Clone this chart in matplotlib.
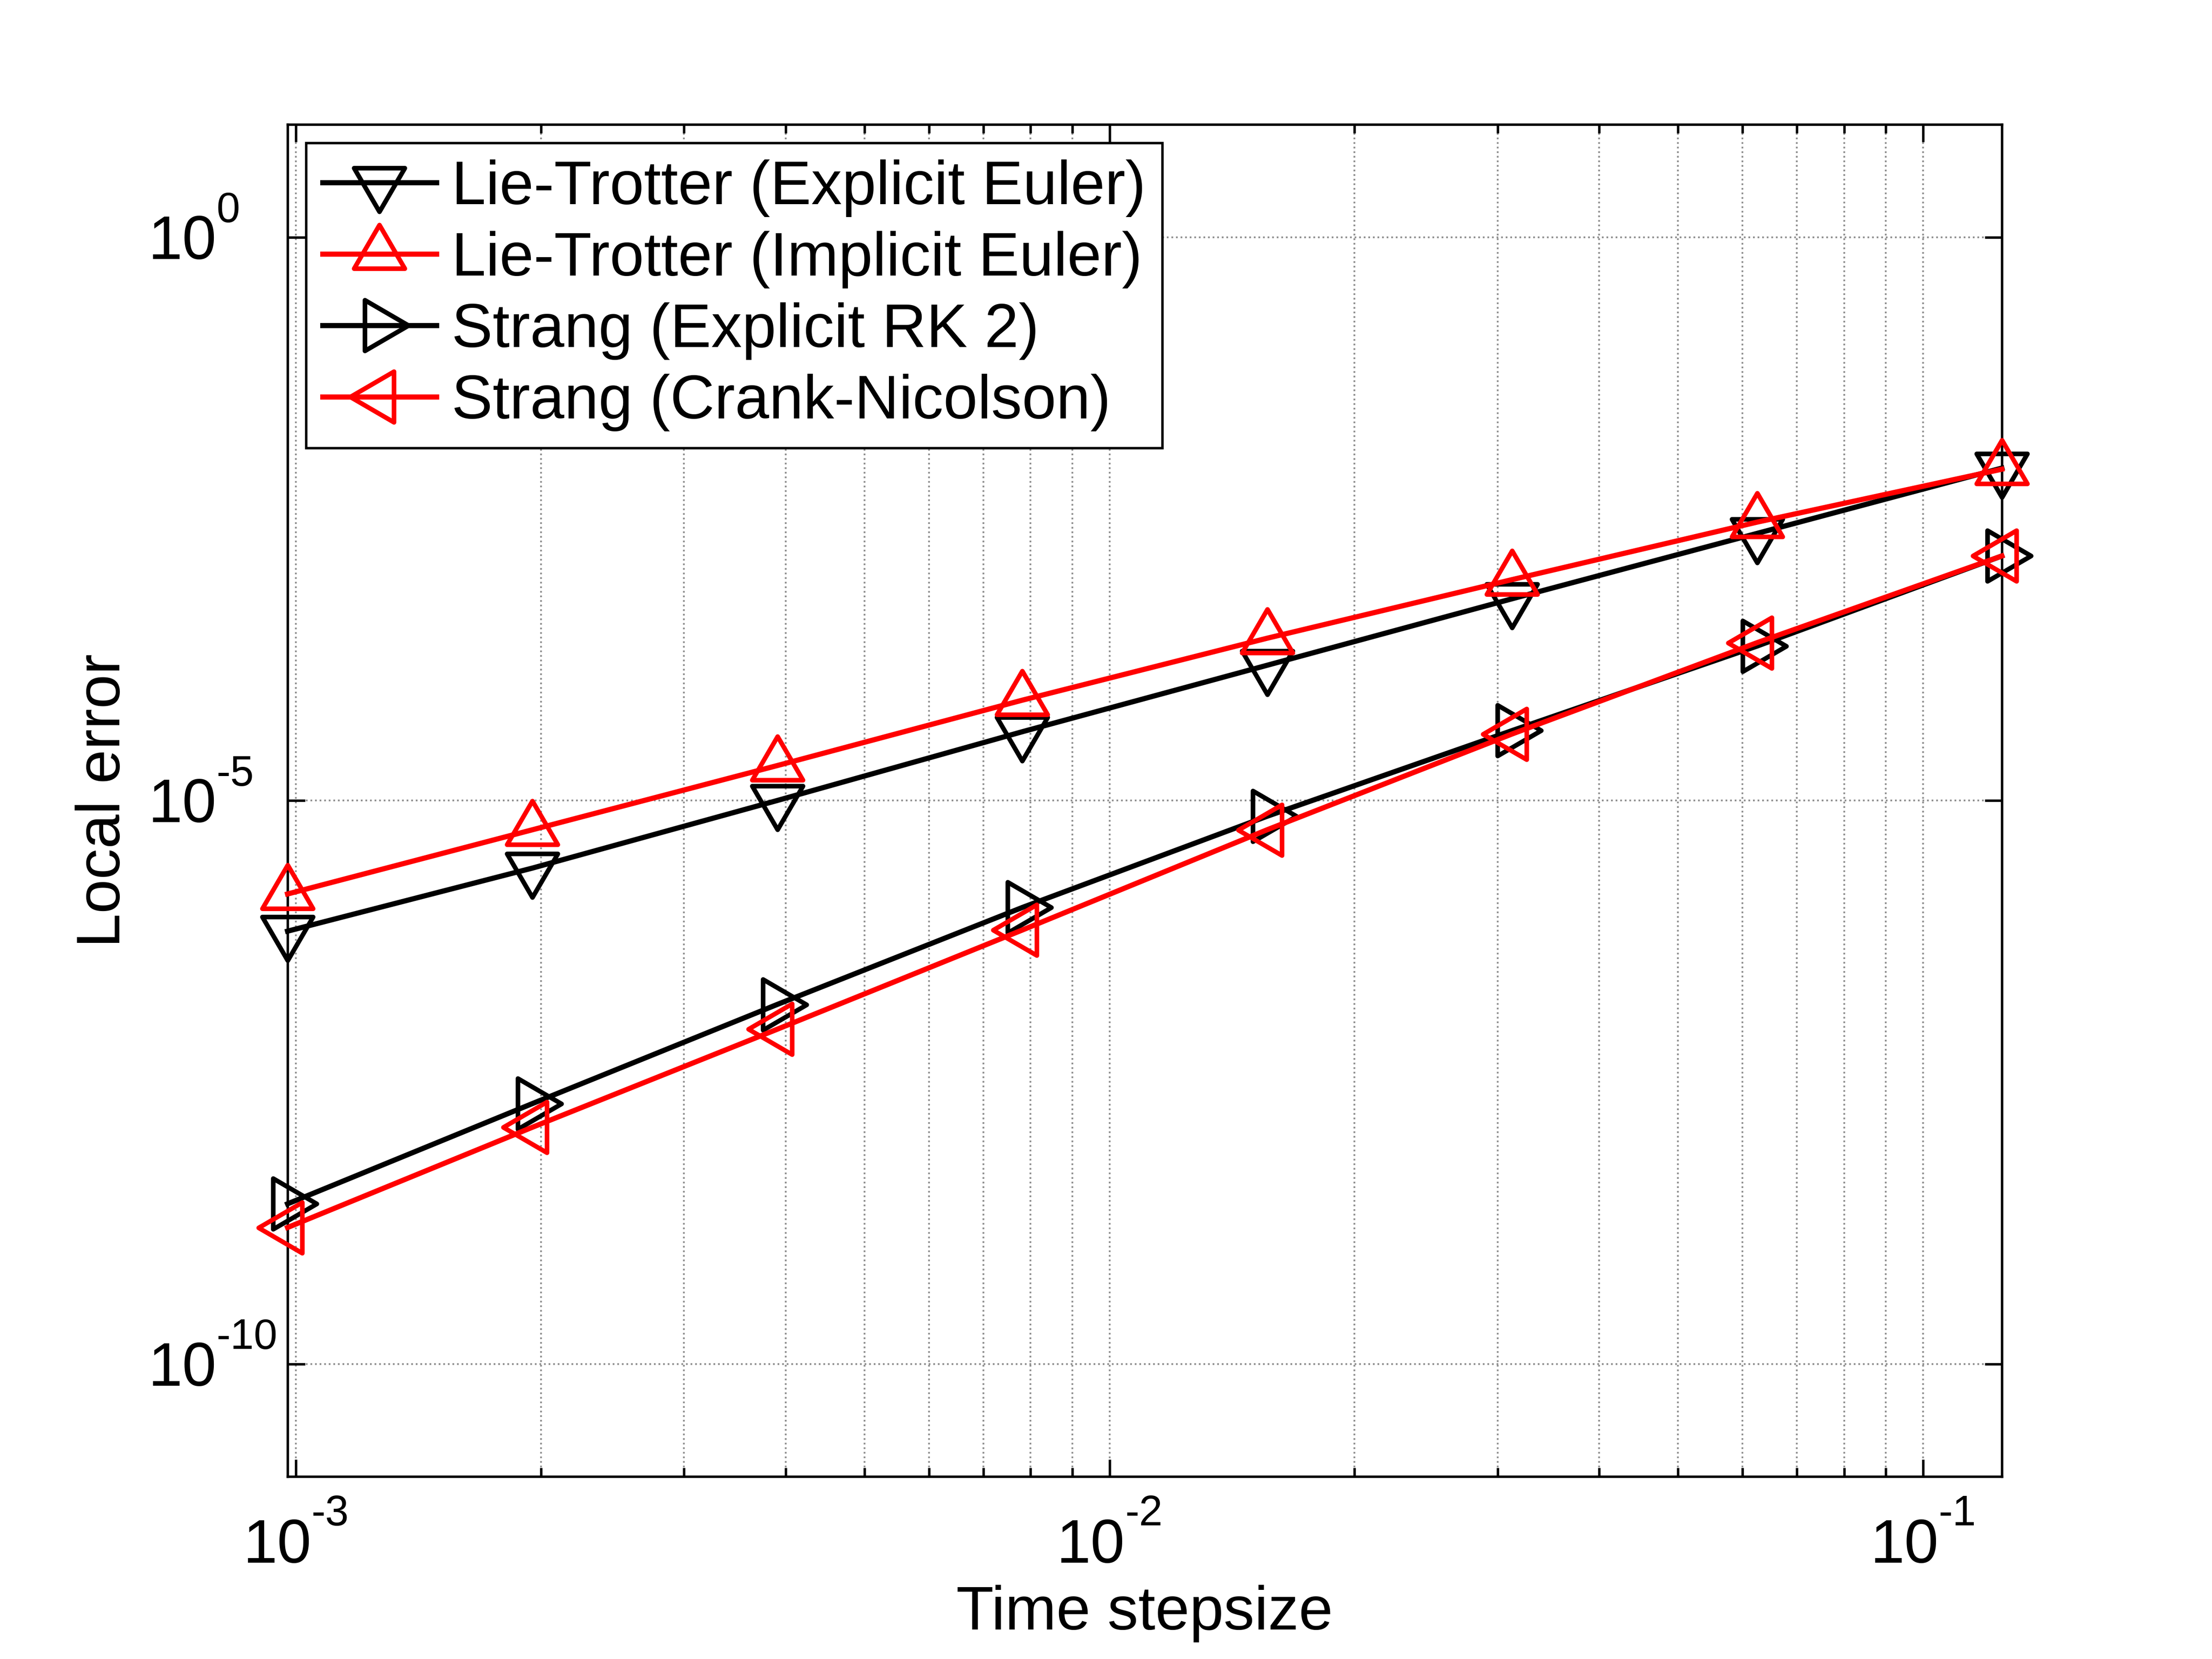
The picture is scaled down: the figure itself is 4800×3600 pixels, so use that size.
import matplotlib
matplotlib.use("Agg")
import matplotlib.pyplot as plt
import numpy as np
from matplotlib.path import Path
from matplotlib.ticker import NullFormatter, FixedLocator, NullLocator

plt.rcParams['font.family'] = ['Liberation Sans', 'DejaVu Sans']

stepsize = [0.125 / 2**k for k in range(7, -1, -1)]
labels = ["Lie-Trotter (Explicit Euler)", "Lie-Trotter (Implicit Euler)",
          "Strang (Explicit RK 2)", "Strang (Crank-Nicolson)"]
log_lt_explicit = [-6.16, -5.60, -5.00, -4.39, -3.80, -3.21, -2.63, -2.05]
log_lt_implicit = [-5.83, -5.26, -4.69, -4.11, -3.56, -3.04, -2.53, -2.06]
log_strang_rk2 = [-8.58, -7.69, -6.81, -5.95, -5.14, -4.38, -3.63, -2.83]
log_strang_cn = [-8.79, -7.90, -7.03, -6.15, -5.26, -4.41, -3.60, -2.83]
xticks = [1e-3, 1e-2, 1e-1]
yticks = [1e-10, 1e-5, 1e0]

series = [log_lt_explicit, log_lt_implicit, log_strang_rk2, log_strang_cn]
colors = ['black', 'red', 'black', 'red']

# MATLAB-style triangles: wider than tall, centred on their centroid
H = 1.72
a, b = H / 3, 2 * H / 3
tri_down = Path([(-1, a), (1, a), (0, -b), (-1, a)], closed=True)
tri_up = Path([(-1, -a), (1, -a), (0, b), (-1, -a)], closed=True)
tri_right = Path([(-a, -1), (-a, 1), (b, 0), (-a, -1)], closed=True)
tri_left = Path([(a, -1), (a, 1), (-b, 0), (a, -1)], closed=True)
markers = [tri_down, tri_up, tri_right, tri_left]

FS = 32
SUP = 22

fig = plt.figure(figsize=(16, 12), dpi=300)
ax = fig.add_axes([0.13, 0.11, 0.775, 0.815])

for vals, c, m, lab in zip(series, colors, markers, labels):
    ax.loglog(stepsize, 10.0 ** np.array(vals), color=c, marker=m, markersize=30.3,
              markerfacecolor='none', markeredgecolor=c, markeredgewidth=2.4,
              linewidth=2.7, label=lab, clip_on=False, zorder=3)

ax.set_xlim(0.125 / 128, 0.125)
ax.set_ylim(1e-11, 1e1)
ax.xaxis.set_major_locator(FixedLocator(xticks))
ax.yaxis.set_major_locator(FixedLocator(yticks))
ax.yaxis.set_minor_locator(NullLocator())
ax.xaxis.set_major_formatter(NullFormatter())
ax.yaxis.set_major_formatter(NullFormatter())
ax.xaxis.set_minor_formatter(NullFormatter())

# MATLAB-style tick labels: base "10" plus raised exponent with a plain hyphen
for v in xticks:
    e = int(round(np.log10(v)))
    ax.annotate("10", xy=(v, 0), xycoords=ax.get_xaxis_transform(), xytext=(8.2, -44.9),
                textcoords='offset points', ha='right', va='baseline', fontsize=FS,
                annotation_clip=False)
    ax.annotate(str(e), xy=(v, 0), xycoords=ax.get_xaxis_transform(), xytext=(8.2, -25.4),
                textcoords='offset points', ha='left', va='baseline', fontsize=SUP,
                annotation_clip=False)
for v in yticks:
    e = int(round(np.log10(v)))
    ax.annotate("10", xy=(0, v), xycoords=ax.get_yaxis_transform(), xytext=(-37.0, -11.3),
                textcoords='offset points', ha='right', va='baseline', fontsize=FS,
                annotation_clip=False)
    ax.annotate(str(e), xy=(0, v), xycoords=ax.get_yaxis_transform(), xytext=(-37.0, 7.7),
                textcoords='offset points', ha='left', va='baseline', fontsize=SUP,
                annotation_clip=False)

ax.grid(True, which='major', color='#8c8c8c', linestyle=':', linewidth=0.9)
ax.grid(True, which='minor', axis='x', color='#8c8c8c', linestyle=':', linewidth=0.9)

ax.tick_params(which='both', direction='in', top=True, right=True, width=1.3)
ax.tick_params(which='major', length=9)
ax.tick_params(which='minor', length=4.5)
for s in ax.spines.values():
    s.set_linewidth(1.3)

ax.set_xlabel("Time stepsize", fontsize=FS)
ax.set_ylabel("Local error", fontsize=FS)
ax.xaxis.set_label_coords(0.5, -0.0801)
ax.yaxis.set_label_coords(-0.0903, 0.5)

leg = ax.legend(loc='upper left', fontsize=FS, frameon=True, fancybox=False,
                edgecolor='black', framealpha=1, borderaxespad=0.3,
                handlelength=1.85, handletextpad=0.25, labelspacing=0.225, borderpad=0.27)
leg.get_frame().set_linewidth(1.3)

fig.savefig("out.png", dpi=300)
